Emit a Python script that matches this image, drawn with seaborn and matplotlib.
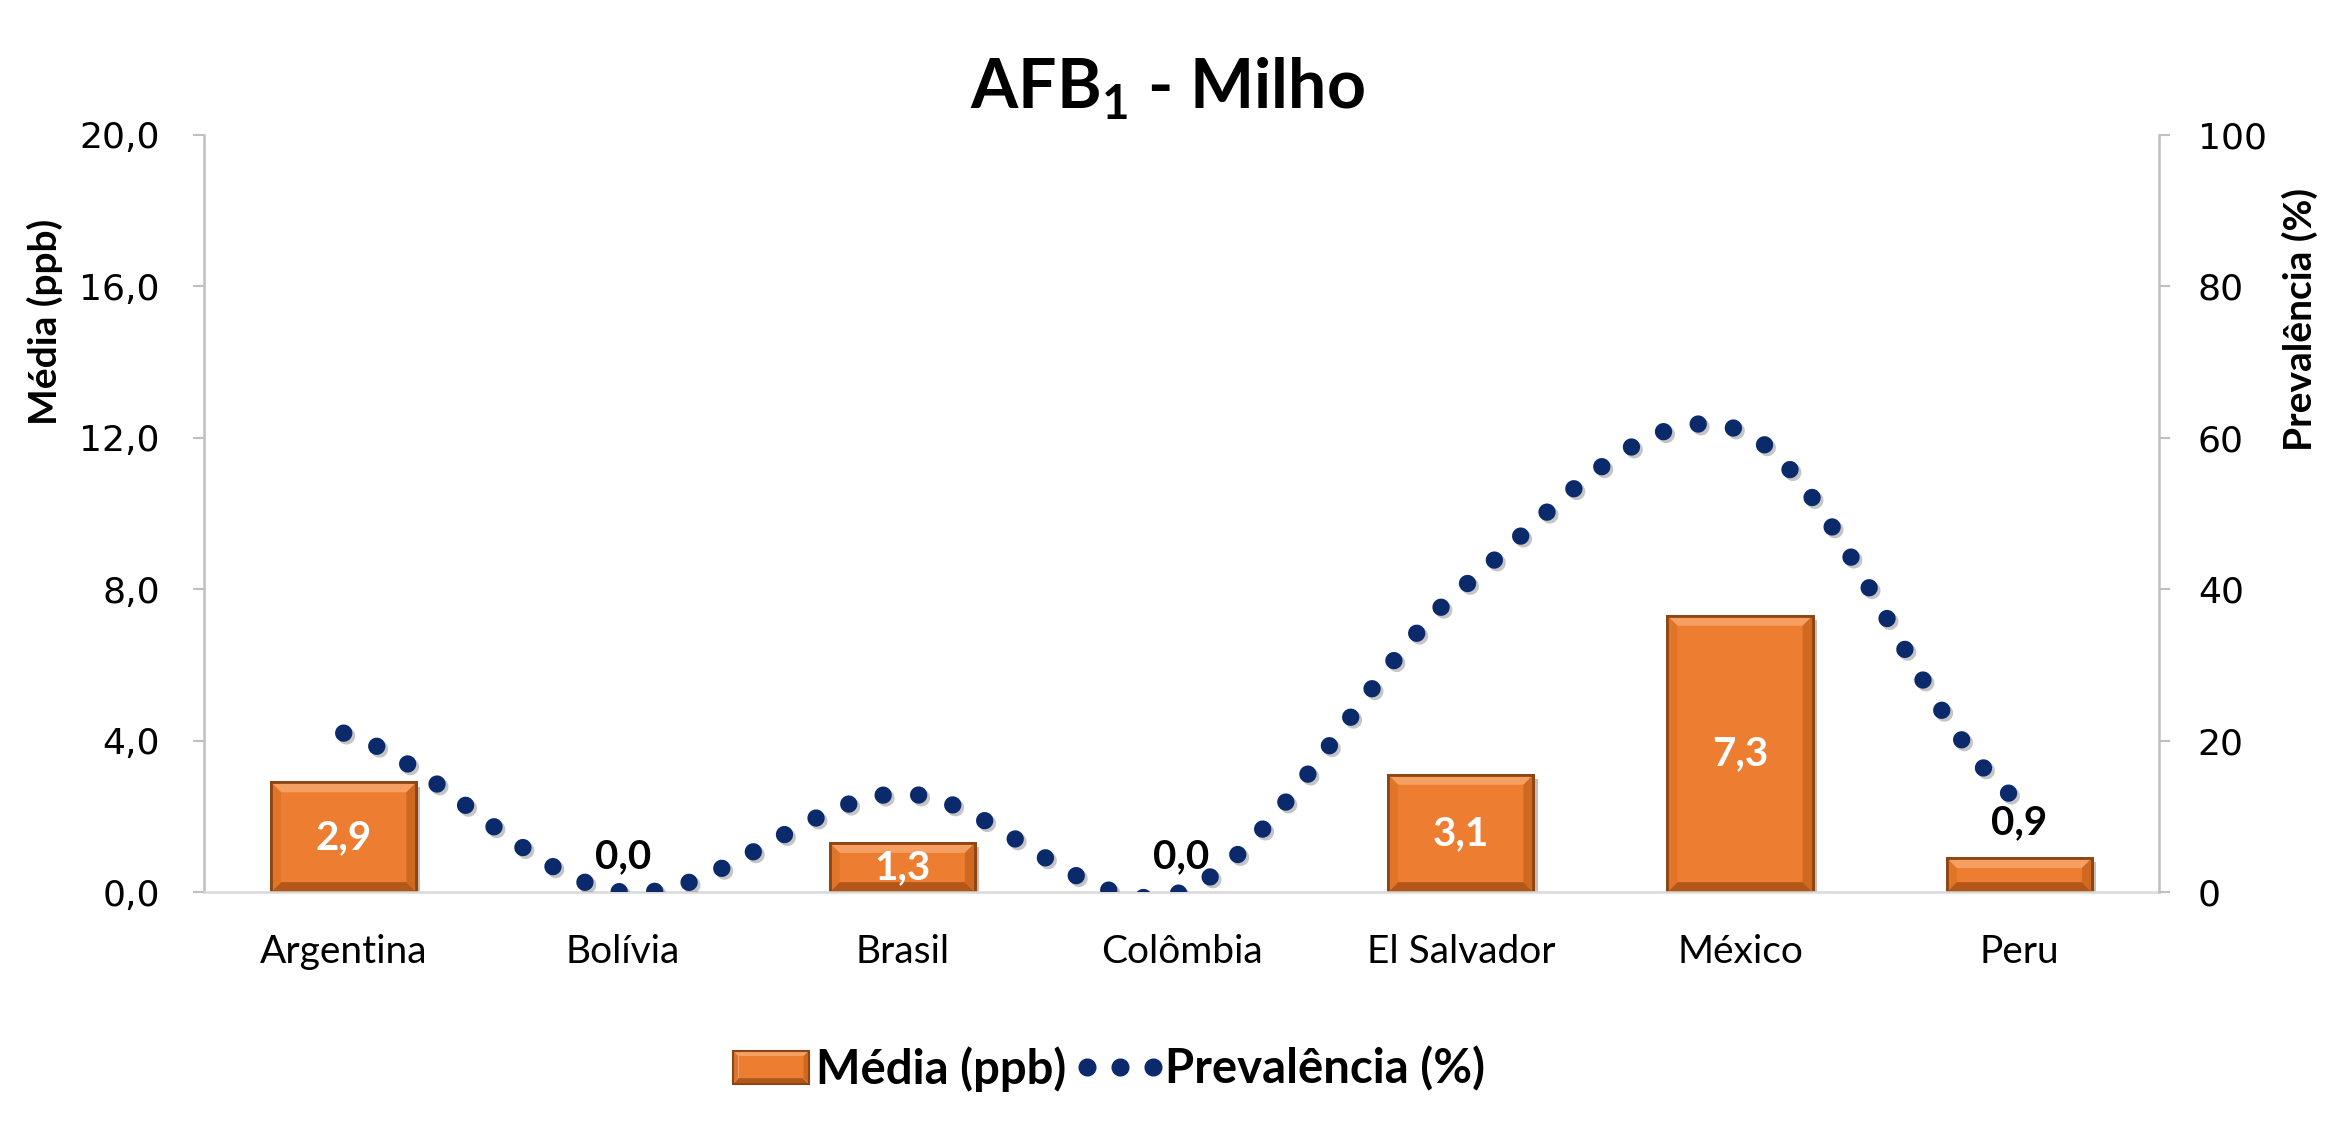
import numpy as np
import pandas as pd
import matplotlib
matplotlib.use('Agg')
import matplotlib.pyplot as plt
import seaborn as sns
from matplotlib.ticker import FuncFormatter, FixedLocator
from matplotlib.patches import Patch, Polygon
from matplotlib.lines import Line2D
from matplotlib.legend_handler import HandlerLine2D
import matplotlib.patheffects as pe

# ---- data ----
paises = ['Argentina', 'Bolívia', 'Brasil', 'Colômbia', 'El Salvador', 'México', 'Peru']
media = [2.9, 0.0, 1.3, 0.0, 3.1, 7.3, 0.9]
prevalencia = [21, 0, 13, 0, 40, 61, 12]
left_ticks = [0, 4, 8, 12, 16, 20]
right_ticks = [0, 20, 40, 60, 80, 100]

ORANGE = '#ED7D31'
EDGE = '#8E4514'
NAVY = '#0B2A6B'
GRAY = '#BFBFBF'
BEV_TOP, BEV_BOT, BEV_L, BEV_R = '#F5A062', '#B35719', '#E07528', '#CF6922'

sns.set_theme(style='white')
plt.rcParams['font.family'] = ['Lato', 'DejaVu Sans']
plt.rcParams['mathtext.fontset'] = 'custom'
plt.rcParams['mathtext.rm'] = 'Lato'
plt.rcParams['mathtext.bf'] = 'Lato:bold'
plt.rcParams['text.color'] = 'black'
plt.rcParams['xtick.labelcolor'] = 'black'
plt.rcParams['ytick.labelcolor'] = 'black'

fig = plt.figure(figsize=(23.35, 11.25), dpi=100)
ax = fig.add_axes([0.0874, 0.207, 0.8372, 0.673])

df = pd.DataFrame({'pais': paises, 'media': media})
sns.barplot(data=df, x='pais', y='media', ax=ax, color=ORANGE, width=0.52,
            saturation=1, edgecolor=EDGE, linewidth=2.0, zorder=2)

ax.set_xlim(-0.5, len(paises) - 0.5)
ax.set_ylim(0, 20)


def bevel_faces(x0, y0, w, h, dx, dy):
    x1, y1 = x0 + w, y0 + h
    ix0, ix1, iy0, iy1 = x0 + dx, x1 - dx, y0 + dy, y1 - dy
    return [
        ([(x0, y1), (x1, y1), (ix1, iy1), (ix0, iy1)], BEV_TOP),
        ([(x0, y0), (x1, y0), (ix1, iy0), (ix0, iy0)], BEV_BOT),
        ([(x0, y0), (x0, y1), (ix0, iy1), (ix0, iy0)], BEV_L),
        ([(x1, y0), (x1, y1), (ix1, iy1), (ix1, iy0)], BEV_R),
    ]


# bevel effect derived from the drawn bars
inv = ax.transData.inverted()
o = inv.transform((0, 0))
bev_px = 10
bdx, bdy = inv.transform((bev_px, bev_px)) - o
for p in ax.patches:
    x0, y0 = p.get_x(), p.get_y()
    w, h = p.get_width(), p.get_height()
    if h <= 0:
        p.set_visible(False)
        continue
    p.set_path_effects([pe.SimplePatchShadow(offset=(3, -3), alpha=0.3), pe.Normal()])
    dy = min(bdy, h * 0.33)
    for pts, col in bevel_faces(x0, y0, w, h, bdx, dy):
        ax.add_patch(Polygon(pts, closed=True, facecolor=col, edgecolor='none', zorder=2.1))
    ax.add_patch(Polygon([(x0, y0), (x0 + w, y0), (x0 + w, y0 + h), (x0, y0 + h)],
                         closed=True, facecolor='none', edgecolor=EDGE,
                         linewidth=2.0, zorder=2.2))

ax.yaxis.set_major_locator(FixedLocator(left_ticks))
ax.yaxis.set_major_formatter(FuncFormatter(lambda v, p: f'{v:.1f}'.replace('.', ',')))
ax.set_xlabel('')
ax.set_ylabel('')

ax.spines['top'].set_visible(False)
ax.spines['right'].set_visible(False)
ax.spines['left'].set_color(GRAY)
ax.spines['left'].set_linewidth(1.8)
ax.spines['bottom'].set_color('#D9D9D9')
ax.spines['bottom'].set_linewidth(1.8)
ax.tick_params(axis='y', length=8, width=1.5, color=GRAY, direction='out', pad=24,
               labelsize=26, left=True, labelcolor='black')
ax.tick_params(axis='x', length=0, pad=30, labelsize=28, labelcolor='black')
for t in ax.get_yticklabels():
    t.set_fontfamily('DejaVu Sans')

# data labels
for i, v in enumerate(media):
    lab = f'{v:.1f}'.replace('.', ',')
    if v >= 1.0:
        ax.text(i, v / 2, lab, ha='center', va='center', color='white',
                fontsize=29, fontweight='bold', zorder=5)
    else:
        ax.annotate(lab, (i, v), xytext=(0, 12), textcoords='offset points',
                    ha='center', va='bottom', color='black', fontsize=29,
                    fontweight='bold', zorder=5)

# ---- prevalence: smoothed dotted line on secondary axis ----
ax2 = ax.twinx()
ax2.set_ylim(0, 100)
ax2.yaxis.set_major_locator(FixedLocator(right_ticks))
ax2.yaxis.set_major_formatter(FuncFormatter(lambda v, p: f'{v:.0f}'))


def smooth(vals, n=60):
    y = np.asarray(vals, float)
    p = np.concatenate([[y[0]], y, [y[-1]]])
    xs, ys = [], []
    for i in range(len(y) - 1):
        p0, p1, p2, p3 = p[i], p[i + 1], p[i + 2], p[i + 3]
        t = np.linspace(0, 1, n, endpoint=(i == len(y) - 2))
        ys.append(0.5 * (2 * p1 + (-p0 + p2) * t + (2 * p0 - 5 * p1 + 4 * p2 - p3) * t ** 2
                         + (-p0 + 3 * p1 - 3 * p2 + p3) * t ** 3))
        xs.append(i + t)
    return np.concatenate(xs), np.concatenate(ys)


sx, sy = smooth(prevalencia)
LW = 12.5
line, = ax2.plot(sx, sy, color=NAVY, linewidth=LW, linestyle=(0, (0.001, 2.05)),
                 dash_capstyle='round', zorder=3)
line.set_path_effects([pe.SimpleLineShadow(offset=(2, -2), alpha=0.25), pe.Normal()])

for s in ['top', 'left', 'bottom']:
    ax2.spines[s].set_visible(False)
ax2.spines['right'].set_color(GRAY)
ax2.spines['right'].set_linewidth(1.8)
ax2.tick_params(axis='y', length=8, width=1.5, color=GRAY, direction='out', pad=20,
                labelsize=26, right=True, labelcolor='black')
for t in ax2.get_yticklabels():
    t.set_fontfamily('DejaVu Sans')
ax2.grid(False)
ax.grid(False)

# ---- titles and axis labels ----
fig.text(0.5, 0.921, r'AFB$_{\mathbf{1}}$ - Milho', ha='center', va='center',
         fontsize=49, fontweight='bold', color='black')
fig.text(0.0193, 0.714, 'Média (ppb)', rotation=90, ha='center', va='center',
         fontsize=28, fontweight='bold', color='black')
fig.text(0.985, 0.716, 'Prevalência (%)', rotation=90, ha='center', va='center',
         fontsize=28, fontweight='bold', color='black')


# ---- legend ----
class BevelHandler:
    def legend_artist(self, legend, orig_handle, fontsize, handlebox):
        x0, y0 = -handlebox.xdescent, -handlebox.ydescent
        w, h = handlebox.width, handlebox.height
        tr = handlebox.get_transform()
        b = 4
        for pts, col in bevel_faces(x0, y0, w, h, b, b):
            handlebox.add_artist(Polygon(pts, closed=True, facecolor=col,
                                         edgecolor='none', transform=tr))
        inner = Polygon([(x0 + b, y0 + b), (x0 + w - b, y0 + b), (x0 + w - b, y0 + h - b),
                         (x0 + b, y0 + h - b)], closed=True, facecolor=ORANGE,
                        edgecolor='none', transform=tr)
        handlebox.add_artist(inner)
        outer = Polygon([(x0, y0), (x0 + w, y0), (x0 + w, y0 + h), (x0, y0 + h)],
                        closed=True, facecolor='none', edgecolor=EDGE, linewidth=1.5,
                        transform=tr)
        handlebox.add_artist(outer)
        return outer


h_bar = Patch(facecolor=ORANGE, edgecolor=EDGE, linewidth=2.0)
h_line = Line2D([], [], linestyle='none', marker='o', markersize=12,
                markerfacecolor=NAVY, markeredgecolor=NAVY)
leg = fig.legend([h_bar, h_line], ['Média (ppb)', 'Prevalência (%)'], loc='center',
                 bbox_to_anchor=(0.475, 0.05), ncol=2, frameon=False, handlelength=1.6,
                 handletextpad=0.15, columnspacing=0.35, numpoints=3,
                 handler_map={h_bar: BevelHandler(), h_line: HandlerLine2D(marker_pad=0.1)},
                 prop={'weight': 'bold', 'size': 34, 'family': 'Lato'})
for t in leg.get_texts():
    t.set_color('black')

fig.savefig('out.png', dpi=100, facecolor='white')
